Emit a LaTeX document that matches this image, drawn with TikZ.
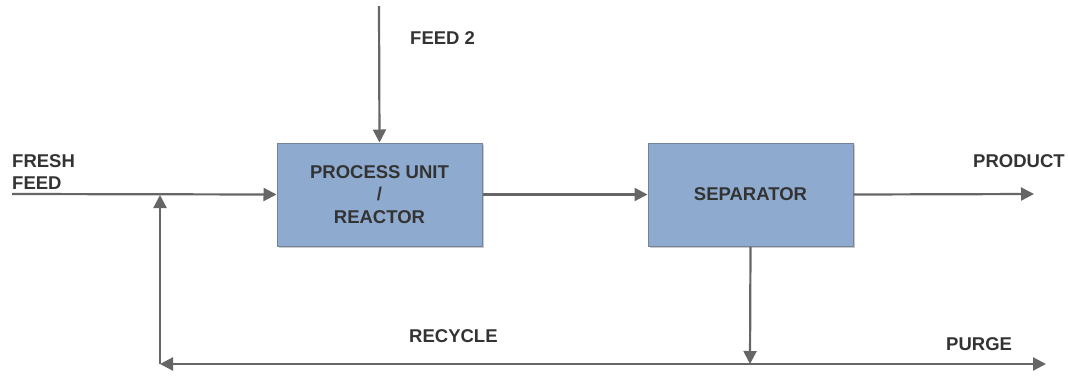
\documentclass[tikz,border=0pt]{standalone}
\usepackage{fontspec}
\setmainfont{Liberation Sans}
\usetikzlibrary{arrows.meta,shadows}
\definecolor{boxfill}{HTML}{8EABCF}
\definecolor{boxline}{HTML}{72839A}
\definecolor{flow}{HTML}{666666}
\definecolor{ink}{HTML}{333333}
\tikzset{
  unit/.style={draw=boxline, line width=1pt, fill=boxfill,
    minimum width=205pt, minimum height=103pt, inner sep=0pt,
    align=center, text=ink, font=\fontsize{18.5}{22.5}\selectfont\bfseries,
    drop shadow={shadow xshift=2pt, shadow yshift=-2pt, opacity=0.35, fill=black!60}},
  flowline/.style={draw=flow, line width=2.2pt},
  tip/.style={-{Triangle[length=13pt,width=13pt]}},
  lbl/.style={anchor=base west, inner sep=0pt, text=ink, align=left,
    font=\fontsize{18.5}{21.5}\selectfont\bfseries}
}
\begin{document}
\begin{tikzpicture}[x=1pt, y=-1pt]
  \useasboundingbox (0,0) rectangle (1068,376);

  % process units
  \node[unit] (pu)  at (379.5,194.5) {PROCESS UNIT\\/\\REACTOR};
  \node[unit] (sep) at (750.5,194.5) {SEPARATOR};

  % stream end points and junctions
  \coordinate (ff)    at (12,194);
  \coordinate (f2)    at (379,6);
  \coordinate (prod)  at (1034,194);
  \coordinate (mix)   at (160,194);
  \coordinate (rc)    at (160,364);
  \coordinate (split) at (750,364);
  \coordinate (purge) at (1046,364);

  % streams
  \draw[flowline, tip] (ff) -- (pu.west);
  \draw[flowline, tip] (f2) -- (pu.north);
  \draw[flowline, tip] (pu.east) -- (sep.west);
  \draw[flowline, tip] (sep.east) -- (prod);
  \draw[flowline, tip] (sep.south) -- (split);
  \draw[flowline, tip] (split) -- (purge);
  \draw[flowline, tip] (split) -- (rc);
  \draw[flowline, tip, shorten >=1pt] (rc) -- (mix);

  % stream labels (multi-line label sits on the baseline of its last line)
  \node[lbl] (lf2)   at (410,44)  {FEED 2};
  \node[lbl] (lff)   at (12,189)  {FRESH\\FEED};
  \node[lbl] (lprod) at (973,167)  {PRODUCT};
  \node[lbl] (lrec)  at (409,342)  {RECYCLE};
  \node[lbl] (lpur)  at (946,350)  {PURGE};
\end{tikzpicture}
\end{document}
